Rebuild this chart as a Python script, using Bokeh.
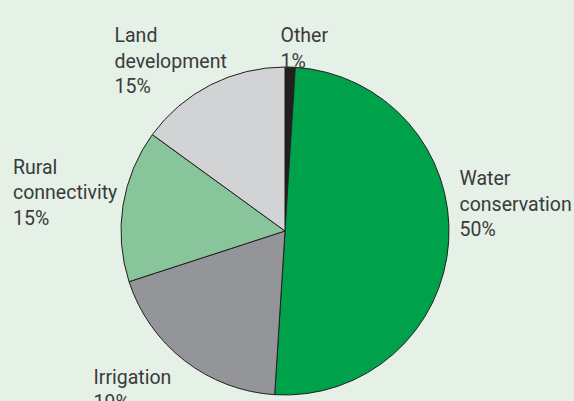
import numpy as np
from jinja2 import Template
from bokeh.plotting import figure
from bokeh.models import ColumnDataSource, Range1d
from bokeh.embed import file_html
from bokeh.resources import INLINE
from bokeh.core.properties import value

# ---- data (clockwise from 12 o'clock) ----
categories = ["Other", "Water conservation", "Irrigation", "Rural connectivity", "Land development"]
shares = [1, 50, 19, 15, 15]
label_lines = [["Other", "1%"],
               ["Water", "conservation", "50%"],
               ["Irrigation", "19%"],
               ["Rural", "connectivity", "15%"],
               ["Land", "development", "15%"]]

# ---- styles / layout ----
colors = ["#231f20", "#00a14b", "#939598", "#89c59a", "#d1d3d4"]
BG = "#e5f0e7"
TEXT = "#3a3a3a"
W, H = 574, 401
cx, cy_ref, R = 284.5, 230.5, 164
label_anchor = [(280, 35), (459, 178), (93, 376.5), (12.5, 166.5), (114, 35)]  # px (x, first baseline)
line_step = 25.5
FONT = "Roboto"
FSIZE = "19.5px"

def fy(y_ref):
    return H - y_ref

p = figure(width=W, height=H, output_backend="svg", toolbar_location=None,
           x_range=Range1d(0, W), y_range=Range1d(0, H),
           min_border=0, outline_line_color=None,
           background_fill_color=BG, border_fill_color=BG)
p.axis.visible = False
p.grid.visible = False

frac = np.array(shares, dtype=float) / sum(shares)
cum = np.concatenate([[0], np.cumsum(frac)])
start = np.pi / 2 - 2 * np.pi * cum[:-1]
end = np.pi / 2 - 2 * np.pi * cum[1:]

src = ColumnDataSource(dict(x=[cx] * len(shares), y=[fy(cy_ref)] * len(shares),
                            start=start, end=end, color=colors, cat=categories))
p.wedge(x="x", y="y", radius=R, start_angle="start", end_angle="end", direction="clock",
        fill_color="color", line_color="#231f20", line_width=1, source=src)

tx, ty, tt = [], [], []
for (ax, ay), lines in zip(label_anchor, label_lines):
    for i, t in enumerate(lines):
        tx.append(ax)
        ty.append(fy(ay + i * line_step))
        tt.append(t)
p.text(x=tx, y=ty, text=tt, text_font=value(FONT), text_font_size=FSIZE,
       text_color=TEXT, text_align="left", text_baseline="alphabetic")

tmpl = Template("""{% extends base %}
{% block preamble %}<style>html, body { background: """ + BG + """; }</style>{% endblock %}""")

open("out.html", "w").write(file_html(p, INLINE, template=tmpl))
